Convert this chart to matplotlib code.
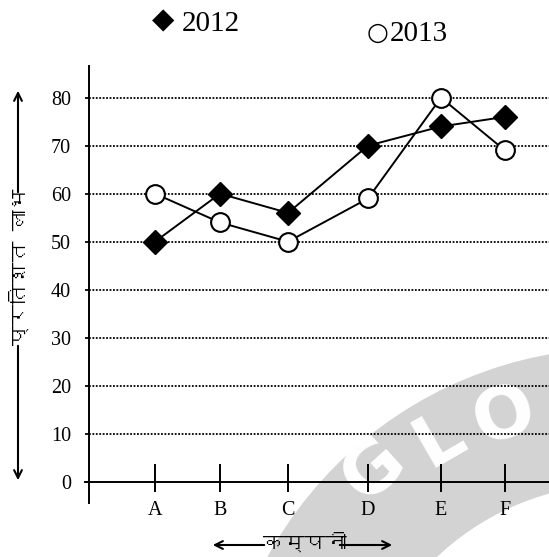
import matplotlib
matplotlib.use("Agg")
import matplotlib.pyplot as plt
from matplotlib import font_manager
from matplotlib.ft2font import FT2Font
from matplotlib.patches import Wedge
from matplotlib.transforms import IdentityTransform

# data
companies = ["A", "B", "C", "D", "E", "F"]
profit_2012 = [50, 60, 56, 70, 74, 76]
profit_2013 = [60, 54, 50, 59, 80, 69]
y_ticks = [0, 10, 20, 30, 40, 50, 60, 70, 80]

# the companies are not evenly spaced on the original axis
company_x = [66, 131, 199, 279, 352, 416]

W, H = 549, 557


def find_devanagari_font():
    # look for any installed font that has the Devanagari letter KA
    for f in font_manager.fontManager.ttflist:
        try:
            if 0x0915 in FT2Font(f.fname).get_charmap():
                return f.name
        except Exception:
            pass
    return "DejaVu Sans"


hindi_font = [find_devanagari_font(), "DejaVu Sans"]
num_font = "Liberation Serif"

fig = plt.figure(figsize=(W / 100, H / 100), dpi=100)
ax = fig.add_axes([89 / W, 54 / H, 1 - 89 / W, 437 / H])
ax.set_facecolor("none")

# watermark band in the lower right corner
band = Wedge((620, H - 750), 402, 90, 180, width=136, facecolor="#d3d3d3",
             edgecolor="none", transform=IdentityTransform(), zorder=-5)
fig.add_artist(band)
for letter, (lx, ly), rot in [("G", (374, 470), 42), ("L", (440, 440), 30), ("O", (504, 417), 18)]:
    t = fig.text(lx / W, 1 - ly / H, letter, color="white", fontsize=52, fontweight="bold",
                 family="DejaVu Sans", rotation=rot, ha="center", va="center", zorder=-4)
    t.set_clip_path(band)

ax.set_xlim(0, 460)
ax.set_ylim(-4.44, 86.6)

# dotted grid lines
for v in y_ticks[1:]:
    ax.axhline(v, color="black", lw=1.3, linestyle=(0, (1, 0.9)), zorder=1)
# x axis line, starts a little left of the y axis
ax.axhline(0, xmin=-4 / 460, color="black", lw=1.4, clip_on=False, zorder=2)
ax.vlines(company_x, -2.1, 3.6, color="black", lw=1.4, zorder=2)

ax.plot(company_x, profit_2012, color="black", lw=1.4, marker="D", ms=12.5,
        mfc="black", mec="black", mew=1, zorder=4)
ax.plot(company_x, profit_2013, color="black", lw=1.4, marker="o", ms=13.5,
        mfc="white", mec="black", mew=1.5, zorder=5)

for s in ["top", "right", "bottom"]:
    ax.spines[s].set_visible(False)
ax.spines["left"].set_linewidth(1.4)

ax.set_yticks(y_ticks)
ax.set_yticklabels([str(v) for v in y_ticks], family=num_font, fontsize=14.5)
ax.tick_params(axis="y", length=3, width=1.3, pad=10)
ax.set_xticks([])
for x, c in zip(company_x, companies):
    ax.text(x, -6, c, family=num_font, fontsize=14.5, ha="center", va="center")

# legend at the top
fig.text(163 / W, 1 - 20 / H, "\u25C6", fontsize=21, ha="center", va="center", family="DejaVu Sans")
fig.text(182 / W, 1 - 24 / H, "2012", family=num_font, fontsize=21, ha="left", va="center")
fig.text(378 / W, 1 - 33 / H, "\u25CB", fontsize=18, ha="center", va="center", family="DejaVu Sans")
fig.text(390 / W, 1 - 34 / H, "2013", family=num_font, fontsize=21, ha="left", va="center")

# axis titles with arrows
fig.text(20 / W, 1 - 267 / H, "प्रतिशत लाभ", family=hindi_font, fontsize=15,
         fontweight="bold", rotation=90, ha="center", va="center")
arrow = dict(arrowstyle="->", lw=1.5, color="black", mutation_scale=14)
ax.annotate("", xy=(18, H - 88), xytext=(18, H - 195), xycoords="figure pixels", arrowprops=arrow)
ax.annotate("", xy=(18, H - 483), xytext=(18, H - 343), xycoords="figure pixels", arrowprops=arrow)

fig.text(305 / W, 1 - 543 / H, "कम्पनी", family=hindi_font, fontsize=15,
         fontweight="bold", ha="center", va="center")
ax.annotate("", xy=(210, H - 545), xytext=(267, H - 545), xycoords="figure pixels", arrowprops=arrow)
ax.annotate("", xy=(395, H - 545), xytext=(337, H - 545), xycoords="figure pixels", arrowprops=arrow)

fig.savefig("out.png", dpi=100)
